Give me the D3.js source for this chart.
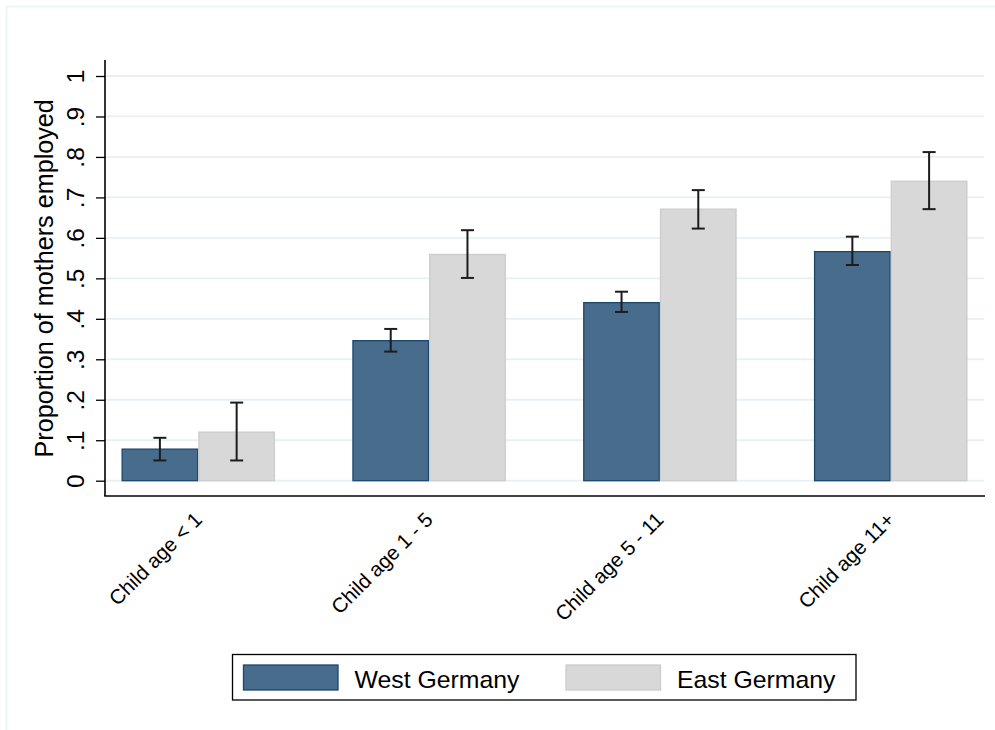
<!DOCTYPE html>
<html>
<head>
<meta charset="utf-8">
<script src="https://cdn.jsdelivr.net/npm/d3@7"></script>
<style>
  html, body { margin: 0; padding: 0; background: #fff; }
  svg { display: block; font-family: "Liberation Sans", Arial, Helvetica, sans-serif; }
</style>
</head>
<body>
<svg id="chart" width="995" height="730"></svg>
<script>
// Employment share of mothers by age of youngest child, with 95% intervals
const categories = ["Child age < 1", "Child age 1 - 5", "Child age 5 - 11", "Child age 11+"];
const seriesNames = ["West Germany", "East Germany"];

const westMean = [0.078, 0.346, 0.440, 0.566];
const westLow  = [0.050, 0.319, 0.417, 0.533];
const westHigh = [0.106, 0.375, 0.467, 0.603];

const eastMean = [0.120, 0.559, 0.671, 0.740];
const eastLow  = [0.050, 0.501, 0.623, 0.671];
const eastHigh = [0.193, 0.619, 0.718, 0.812];

const yTicks = [0, 0.1, 0.2, 0.3, 0.4, 0.5, 0.6, 0.7, 0.8, 0.9, 1];
const yTitle = "Proportion of mothers employed";

const fills   = ["#486c8c", "#d8d8d8"];
const strokes = ["#1a476f", "#cccccc"];

const rows = categories.map((c, i) => ({
  cat: c,
  values: [
    { s: 0, mean: westMean[i], lo: westLow[i], hi: westHigh[i] },
    { s: 1, mean: eastMean[i], lo: eastLow[i], hi: eastHigh[i] }
  ]
}));

const svg = d3.select("#chart");

// outer graph region frame
svg.append("rect")
  .attr("x", 6.5).attr("y", 6.5)
  .attr("width", 1100).attr("height", 1100)
  .attr("fill", "none").attr("stroke", "#eaf2f3").attr("stroke-width", 1.5);

const plot = { left: 105, right: 984, top: 60, bottom: 496 };

const x = d3.scaleBand()
  .domain(categories)
  .range([plot.left, plot.right])
  .paddingInner(0.335)
  .paddingOuter(0.0716);

const xs = d3.scaleBand()
  .domain([0, 1])
  .range([0, x.bandwidth()])
  .padding(0);

const y = d3.scaleLinear().domain([0, 1]).range([480.7, 76]);

const fmt = d => d === 0 ? "0" : d === 1 ? "1" : d3.format(".1f")(d).replace(/^0/, "");

// gridlines
svg.append("g")
  .selectAll("line")
  .data(yTicks)
  .join("line")
  .attr("x1", plot.left).attr("x2", plot.right)
  .attr("y1", d => y(d)).attr("y2", d => y(d))
  .attr("stroke", "#e8f0f2").attr("stroke-width", 1.8);

// bars
const groups = svg.append("g")
  .selectAll("g")
  .data(rows)
  .join("g")
  .attr("transform", d => `translate(${x(d.cat)},0)`);

groups.selectAll("rect")
  .data(d => d.values)
  .join("rect")
  .attr("x", d => xs(d.s) + 0.6)
  .attr("width", xs.bandwidth() - 1.2)
  .attr("y", d => y(d.mean))
  .attr("height", d => y(0) - y(d.mean))
  .attr("fill", d => fills[d.s])
  .attr("stroke", d => strokes[d.s])
  .attr("stroke-width", 1.3);

// confidence intervals
const capHalf = 6.5;
const ci = groups.selectAll("g.ci")
  .data(d => d.values)
  .join("g")
  .attr("class", "ci")
  .attr("stroke", "#1c1c1c")
  .attr("stroke-width", 2);

ci.append("line")
  .attr("x1", d => xs(d.s) + xs.bandwidth() / 2)
  .attr("x2", d => xs(d.s) + xs.bandwidth() / 2)
  .attr("y1", d => y(d.lo)).attr("y2", d => y(d.hi));
ci.append("line")
  .attr("x1", d => xs(d.s) + xs.bandwidth() / 2 - capHalf)
  .attr("x2", d => xs(d.s) + xs.bandwidth() / 2 + capHalf)
  .attr("y1", d => y(d.hi)).attr("y2", d => y(d.hi));
ci.append("line")
  .attr("x1", d => xs(d.s) + xs.bandwidth() / 2 - capHalf)
  .attr("x2", d => xs(d.s) + xs.bandwidth() / 2 + capHalf)
  .attr("y1", d => y(d.lo)).attr("y2", d => y(d.lo));

// y axis
const yAxis = svg.append("g")
  .attr("transform", `translate(${plot.left},0)`)
  .call(d3.axisLeft(y).tickValues(yTicks).tickFormat(fmt).tickSize(9).tickPadding(0));
yAxis.select(".domain").remove();
yAxis.selectAll(".tick line").attr("stroke", "#000").attr("stroke-width", 1.3);
yAxis.selectAll(".tick text")
  .attr("font-size", 24.5)
  .attr("fill", "#000")
  .attr("text-anchor", "middle")
  .attr("x", null).attr("dy", null)
  .attr("transform", "translate(-21,0) rotate(-90)");

svg.append("line")
  .attr("x1", plot.left).attr("x2", plot.left)
  .attr("y1", plot.top).attr("y2", plot.bottom)
  .attr("stroke", "#000").attr("stroke-width", 1.6);

// x axis
svg.append("line")
  .attr("x1", plot.left - 0.8).attr("x2", plot.right + 1)
  .attr("y1", plot.bottom).attr("y2", plot.bottom)
  .attr("stroke", "#000").attr("stroke-width", 1.6);

svg.append("g")
  .selectAll("text")
  .data(categories)
  .join("text")
  .attr("transform", d => `translate(${x(d) + x.bandwidth() / 2 + 5},${plot.bottom + 25}) rotate(-45)`)
  .attr("text-anchor", "end")
  .attr("font-size", 20.5)
  .attr("fill", "#000")
  .text(d => d);

// y title
svg.append("text")
  .attr("transform", `translate(53,${(y(0) + y(1)) / 2}) rotate(-90)`)
  .attr("text-anchor", "middle")
  .attr("font-size", 25.2)
  .attr("fill", "#000")
  .text(yTitle);

// legend
const legend = svg.append("g");
legend.append("rect")
  .attr("x", 232.5).attr("y", 654.5)
  .attr("width", 623.5).attr("height", 45.5)
  .attr("fill", "#fff").attr("stroke", "#000").attr("stroke-width", 1.3);

const legendX = [243.5, 566];
const items = legend.selectAll("g.item")
  .data(seriesNames)
  .join("g")
  .attr("class", "item")
  .attr("transform", (d, i) => `translate(${legendX[i]},665)`);
items.append("rect")
  .attr("width", 94.5).attr("height", 25)
  .attr("fill", (d, i) => fills[i])
  .attr("stroke", (d, i) => strokes[i])
  .attr("stroke-width", 1.3);
items.append("text")
  .attr("x", 111)
  .attr("y", 23)
  .attr("font-size", 24.8)
  .attr("fill", "#000")
  .text(d => d);
</script>
</body>
</html>
